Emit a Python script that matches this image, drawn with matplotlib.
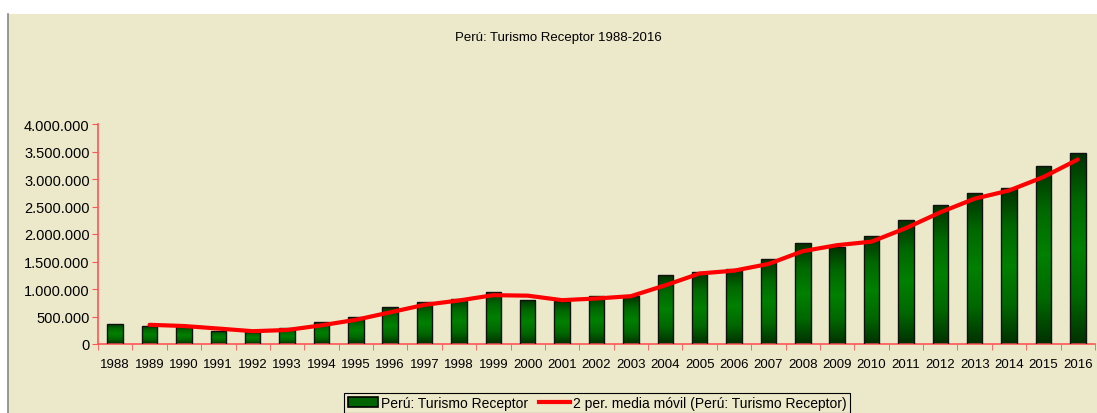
import matplotlib
matplotlib.use("Agg")
import matplotlib.pyplot as plt
import numpy as np
from matplotlib.patches import Rectangle
from matplotlib.lines import Line2D
from matplotlib.colors import LinearSegmentedColormap
from matplotlib.ticker import FuncFormatter, MultipleLocator

years = [str(y) for y in range(1988, 2017)]
visitors = [364000, 334000, 320000, 242000, 224000, 285000, 394000, 485000,
            667000, 758000, 824000, 952000, 806000, 788000, 867000, 872000,
            1261000, 1303000, 1364000, 1545000, 1830000, 1764000, 1958000,
            2255000, 2533000, 2751000, 2830000, 3242000, 3467000]
title = "Perú: Turismo Receptor 1988-2016"
bar_label = "Perú: Turismo Receptor"
line_label = "2 per. media móvil (Perú: Turismo Receptor)"

moving_avg = [(visitors[i - 1] + visitors[i]) / 2 for i in range(1, len(visitors))]

BG = "#ECE9CB"
plt.rcParams['font.family'] = ['Liberation Sans', 'DejaVu Sans']

fig = plt.figure(figsize=(10.97, 4.14), dpi=100, facecolor="white")
# beige panel with left grey border
fig.patches.append(Rectangle((8 / 1097, 0), 1 - 8 / 1097, (414 - 15) / 414,
                             transform=fig.transFigure, facecolor=BG,
                             edgecolor="none", zorder=-10))
fig.add_artist(Line2D([8 / 1097, 8 / 1097], [0, (414 - 15) / 414],
                      transform=fig.transFigure, color="#888888", lw=1.2, zorder=-5))

ax = fig.add_axes([98 / 1097, 1 - 345 / 414, (1095 - 98) / 1097, 220 / 414])
ax.set_zorder(1)
ax.patch.set_visible(False)

x = np.arange(len(years))
width = 0.45
cmap = LinearSegmentedColormap.from_list(
    "g", ["#003000", "#006800", "#008000", "#006800", "#003000"])
grad = np.linspace(0, 1, 256).reshape(-1, 1)
bars = ax.bar(x, visitors, width=width, color="none", edgecolor="#111111", lw=1.0, zorder=3)
for b in bars:
    bx, by = b.get_x(), b.get_y()
    bw, bh = b.get_width(), b.get_height()
    im = ax.imshow(grad, cmap=cmap, aspect="auto", interpolation="bilinear",
                   extent=[bx, bx + bw, by, by + bh], origin="lower", zorder=2)
    im.set_clip_path(b)

ax.plot(x[1:], moving_avg, color="#FF0000", lw=3, zorder=4,
        solid_joinstyle="round", solid_capstyle="round")

ax.set_xlim(-0.5, len(years) - 0.5)
ax.set_ylim(0, 4000000)
ax.yaxis.set_major_locator(MultipleLocator(500000))
ax.yaxis.set_major_formatter(FuncFormatter(lambda v, p: f"{int(v):,}".replace(",", ".")))
ax.set_xticks(x)
ax.set_xticklabels(years)
ax.set_xticks(np.arange(-0.5, len(years), 1), minor=True)
ax.tick_params(axis="x", which="major", length=0, labelsize=9.5, pad=10)
ax.tick_params(axis="x", which="minor", length=4, color="#FF5555", direction="out")
ax.tick_params(axis="y", length=4, color="#FF5555", labelsize=10.5, pad=2)
for s in ["top", "right"]:
    ax.spines[s].set_visible(False)
for s in ["left", "bottom"]:
    ax.spines[s].set_color("#FF5555")
    ax.spines[s].set_linewidth(1.2)

fig.text(558 / 1097, 1 - 38 / 414, title, ha="center", va="center", fontsize=9.5,
         family=["Liberation Sans Narrow", "Liberation Sans", "DejaVu Sans"])

handles = [Rectangle((0, 0), 1, 1, facecolor="#006400", edgecolor="black", lw=1.2),
           Line2D([0], [0], color="#FF0000", lw=3)]
leg = fig.legend(handles, [bar_label, line_label], loc="center",
                 bbox_to_anchor=(597 / 1097, 1 - 404 / 414), ncol=2,
                 frameon=True, fancybox=False, edgecolor="black", facecolor=BG,
                 fontsize=10, handlelength=2.2, handletextpad=0.2, columnspacing=0.8,
                 borderpad=0.25, borderaxespad=0)
leg.get_frame().set_linewidth(0.8)
leg.get_frame().set_alpha(1)

fig.savefig("out.png", dpi=100, facecolor=fig.get_facecolor())
